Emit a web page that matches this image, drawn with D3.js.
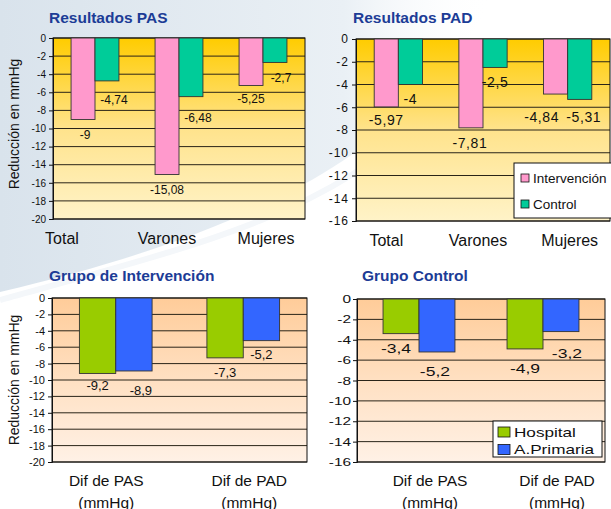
<!DOCTYPE html>
<html><head><meta charset="utf-8">
<script src="https://cdn.jsdelivr.net/npm/d3@7"></script>
<style>body{margin:0;background:#fff}svg{display:block}text{font-family:"Liberation Sans",Arial,sans-serif}</style>
</head><body>
<script>
// ---- data ----
const groupCats = ["Total", "Varones", "Mujeres"];
const pasIntervencion = [-9, -15.08, -5.25];
const pasControl = [-4.74, -6.48, -2.7];
const padIntervencion = [-5.97, -7.81, -4.84];
const padControl = [-4, -2.5, -5.31];
const difCats = [["Dif de PAS", "(mmHg)"], ["Dif de PAD", "(mmHg)"]];
const intHospital = [-9.2, -7.3];
const intPrimaria = [-8.9, -5.2];
const ctrlHospital = [-3.4, -4.9];
const ctrlPrimaria = [-5.2, -3.2];
const ticks20 = [0, -2, -4, -6, -8, -10, -12, -14, -16, -18, -20];
const ticks16 = [0, -2, -4, -6, -8, -10, -12, -14, -16];
const seriesNamesA = ["Intervención", "Control"];
const seriesNamesB = ["Hospital", "A.Primaria"];

// ---- layout (label nudges, not data) ----
const fmt = d => String(d).replace(".", ",");
const svg = d3.select("body").append("svg").attr("width", 611).attr("height", 509);
const defs = svg.append("defs");

function grad(id, stops, vertical) {
  const g = defs.append("linearGradient").attr("id", id)
    .attr("x1", 0).attr("y1", 0).attr("x2", vertical ? 0 : 1).attr("y2", vertical ? 1 : 0);
  stops.forEach(s => g.append("stop").attr("offset", s[0]).attr("stop-color", s[1]).attr("stop-opacity", s[2] == null ? 1 : s[2]));
}
grad("gold", [[0, "#FFCC00"], [0.5, "#FFE38C"], [1, "#FFF3C8"]], true);
grad("peach", [[0, "#FFCC99"], [0.5, "#FFE0C2"], [1, "#FFF1E6"]], true);
grad("swoosh", [[0, "#D9E3EC"], [0.7, "#EAF0F5"], [1, "#FFFFFF", 0]], false);

// slide background swoosh
svg.append("path").attr("d", "M0,0 H492 C430,110 330,215 0,292 Z").attr("fill", "url(#swoosh)");
svg.append("path").attr("d", "M0,300 C180,250 330,215 420,120").attr("fill", "none").attr("stroke", "#F4F7FA").attr("stroke-width", 6);

// place a text horizontally stretched by factor s around its x position
function stretchX(sel, X, s) {
  sel.attr("x", X / s).attr("transform", `scale(${s},1)`);
}

function panel(c) {
  const g = svg.append("g");
  const x = d3.scaleBand().domain(c.cats.map((d, i) => i)).range([c.x0, c.x1]).paddingInner(c.pad).paddingOuter(c.pad / 2);
  const xs = d3.scaleBand().domain(c.series.map(s => s.name)).range([0, x.bandwidth()]);
  const y = d3.scaleLinear().domain([c.ymin, 0]).range([c.y1, c.y0]);
  const S = c.stretch || 1;

  g.append("rect").attr("x", c.x0).attr("y", c.y0).attr("width", c.x1 - c.x0).attr("height", c.y1 - c.y0).attr("fill", c.fill);
  g.selectAll(".grid").data(c.ticks).join("line")
    .attr("x1", c.x0).attr("x2", c.x1).attr("y1", d => y(d)).attr("y2", d => y(d))
    .attr("stroke", "#2a2418").attr("stroke-width", 1);
  g.append("rect").attr("x", c.x0).attr("y", c.y0).attr("width", c.x1 - c.x0).attr("height", c.y1 - c.y0)
    .attr("fill", "none").attr("stroke", "#111").attr("stroke-width", 1);

  const ax = g.append("g").attr("transform", `translate(${c.x0},0)`)
    .call(d3.axisLeft(y).tickValues(c.ticks).tickSize(4).tickPadding(c.tickPad).tickFormat(fmt));
  ax.select(".domain").attr("stroke", "#111");
  ax.selectAll(".tick line").attr("stroke", "#111");
  ax.selectAll(".tick text").attr("font-family", "Liberation Sans, Arial, sans-serif")
    .attr("font-size", c.tickFont).attr("letter-spacing", c.tickLS).attr("fill", "#111")
    .each(function () { stretchX(d3.select(this), -(4 + c.tickPad), c.tickStretch || 1); });

  c.series.forEach((s, si) => {
    g.selectAll(null).data(s.values).join("rect")
      .attr("x", (d, i) => x(i) + xs(s.name)).attr("y", y(0))
      .attr("width", xs.bandwidth()).attr("height", d => y(d) - y(0))
      .attr("fill", s.color).attr("stroke", "#333").attr("stroke-width", 0.9);
    s.values.forEach((d, i) => {
      const t = g.append("text")
        .attr("y", y(d) + c.nudge[si][i][1] + c.labelFont * 0.36)
        .attr("text-anchor", "middle").attr("font-size", c.labelFont).attr("letter-spacing", c.labelLS)
        .attr("fill", "#111").text(fmt(d));
      stretchX(t, x(i) + xs(s.name) + xs.bandwidth() / 2 + c.nudge[si][i][0], S);
    });
  });

  c.cats.forEach((cat, i) => {
    const lines = Array.isArray(cat) ? cat : [cat];
    lines.forEach((ln, li) => {
      g.append("text").attr("x", x(i) + x.bandwidth() / 2 + c.catNudge[i]).attr("y", c.catY + li * 21.5)
        .attr("text-anchor", "middle").attr("font-size", c.catFont).attr("fill", "#111").text(ln);
    });
  });

  g.append("text").attr("x", c.titleX).attr("y", c.titleY).attr("font-size", 15.5).attr("font-weight", "bold")
    .attr("fill", "#1C3C96").text(c.title);

  if (c.ytitle) {
    g.append("text").attr("transform", `translate(19,${c.ytitleY}) rotate(-90)`).attr("text-anchor", "middle")
      .attr("font-size", 14).attr("fill", "#111").text("Reducción en mmHg");
  }
  if (c.legend) {
    const L = c.legend;
    g.append("rect").attr("x", L.x).attr("y", L.y).attr("width", L.w).attr("height", L.h)
      .attr("fill", "#fff").attr("stroke", "#111").attr("stroke-width", 1);
    c.series.forEach((s, si) => {
      g.append("rect").attr("x", L.sx).attr("y", L.rows[si] - L.sh / 2).attr("width", L.sw).attr("height", L.sh)
        .attr("fill", s.color).attr("stroke", "#111").attr("stroke-width", 0.8);
      const t = g.append("text").attr("y", L.rows[si] + L.font * 0.36).attr("font-size", L.font)
        .attr("fill", "#111").text(s.name);
      stretchX(t, L.tx, L.stretch || 1);
    });
  }
}

panel({
  cats: groupCats, title: "Resultados PAS", titleX: 49, titleY: 23, ytitle: true, ytitleY: 124,
  series: [{ name: seriesNamesA[0], values: pasIntervencion, color: "#FF99CC" }, { name: seriesNamesA[1], values: pasControl, color: "#00CC99" }],
  x0: 53, x1: 305, y0: 38, y1: 219, ymin: -20, ticks: ticks20, pad: 0.43, fill: "url(#gold)",
  tickFont: 10, tickLS: 0, tickPad: 3, labelFont: 12, labelLS: 0, catFont: 16,
  nudge: [[[2, 15.5], [0, 15], [0, 13]], [[7, 19], [7, 21], [6, 15]]],
  catNudge: [-33, -12, 3], catY: 243.5
});
panel({
  cats: groupCats, title: "Resultados PAD", titleX: 353, titleY: 23,
  series: [{ name: seriesNamesA[0], values: padIntervencion, color: "#FF99CC" }, { name: seriesNamesA[1], values: padControl, color: "#00CC99" }],
  x0: 356, x1: 610, y0: 39, y1: 221, ymin: -16, ticks: ticks16, pad: 0.43, fill: "url(#gold)",
  tickFont: 12, tickLS: 1, tickPad: 3, labelFont: 14, labelLS: 0.6, catFont: 16,
  nudge: [[[0, 13], [-1, 15], [-14, 23]], [[0, 14], [0, 14.5], [4, 18]]],
  catNudge: [-12, -5, 2], catY: 245.5,
  legend: { x: 514, y: 163, w: 100, h: 55, sx: 521, sw: 8, sh: 8, tx: 533, rows: [178, 204], font: 13.5 }
});
panel({
  cats: difCats, title: "Grupo de Intervención", titleX: 49, titleY: 280.5, ytitle: true, ytitleY: 380,
  series: [{ name: seriesNamesB[0], values: intHospital, color: "#99CC00" }, { name: seriesNamesB[1], values: intPrimaria, color: "#3366FF" }],
  x0: 52, x1: 307, y0: 298, y1: 462, ymin: -20, ticks: ticks20, pad: 0.43, fill: "url(#peach)",
  tickFont: 11, tickLS: 0, tickPad: 3, labelFont: 13, labelLS: 0, catFont: 15.5,
  nudge: [[[0, 12], [0, 14]], [[7, 19], [0, 13.5]]],
  catNudge: [-9.5, 6], catY: 486
});
panel({
  cats: difCats, title: "Grupo Control", titleX: 362, titleY: 280.5,
  series: [{ name: seriesNamesB[0], values: ctrlHospital, color: "#99CC00" }, { name: seriesNamesB[1], values: ctrlPrimaria, color: "#3366FF" }],
  x0: 357, x1: 605, y0: 299, y1: 462, ymin: -16, ticks: ticks16, pad: 0.42, fill: "url(#peach)",
  tickFont: 11, tickLS: 0, tickStretch: 1.4, tickPad: 2, labelFont: 13, labelLS: 0, stretch: 1.35, catFont: 15.5,
  nudge: [[[-5, 15], [0, 19]], [[-2, 19], [6, 21.5]]],
  catNudge: [11, 14], catY: 486,
  legend: { x: 493, y: 421, w: 109, h: 36, sx: 498, sw: 12, sh: 10, tx: 514, rows: [432, 449.5], font: 13.5, stretch: 1.27 }
});
</script>
</body></html>
